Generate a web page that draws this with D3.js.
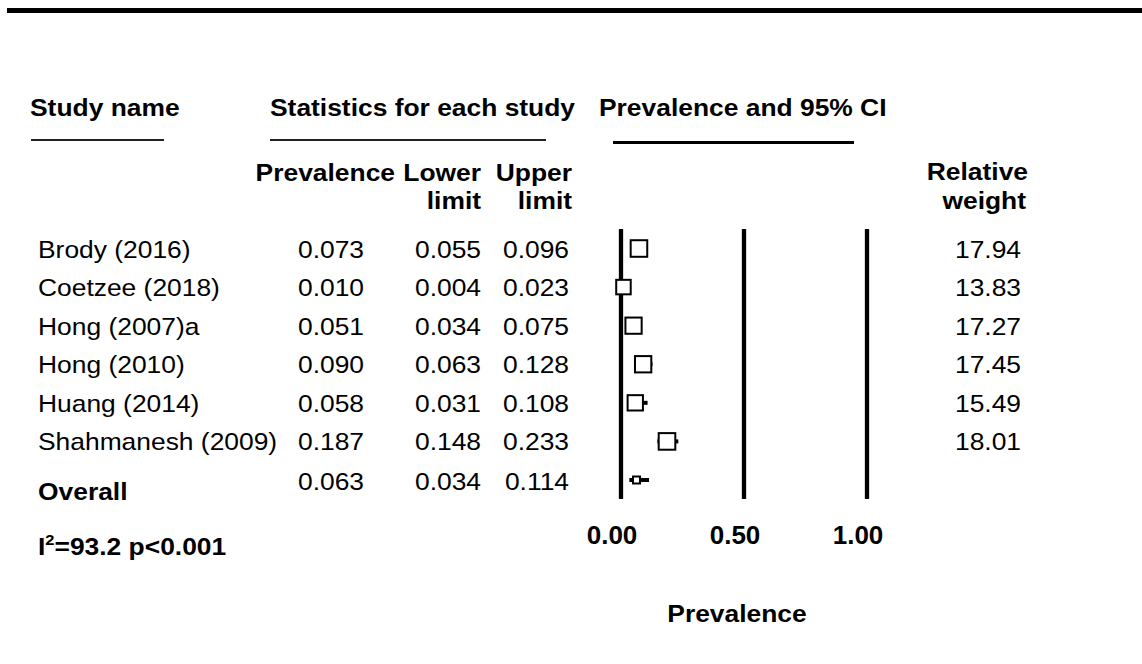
<!DOCTYPE html>
<html lang="en">
  <head>
    <meta charset="UTF-8" />
    <title>Forest plot - Prevalence</title>
    <script src="https://d3js.org/d3.v7.min.js"></script>
    <style>
      body {
        margin: 0;
        background: #fff;
      }
      svg {
        display: block;
      }
      text {
        font-family: "Liberation Sans", Arial, sans-serif;
        fill: #000;
      }
    </style>
  </head>
  <body>
    <svg id="chart" width="1142" height="664"></svg>

    <script>
      // study data
      const studies = [
        "Brody (2016)",
        "Coetzee (2018)",
        "Hong (2007)a",
        "Hong (2010)",
        "Huang (2014)",
        "Shahmanesh (2009)",
      ];
      const prevalence = [0.073, 0.01, 0.051, 0.09, 0.058, 0.187];
      const lower = [0.055, 0.004, 0.034, 0.063, 0.031, 0.148];
      const upper = [0.096, 0.023, 0.075, 0.128, 0.108, 0.233];
      const weights = [17.94, 13.83, 17.27, 17.45, 15.49, 18.01];

      const overall = { prevalence: 0.063, lower: 0.034, upper: 0.114 };
      const xTicks = [0, 0.5, 1];
      const heterogeneity = { i2: "93.2", p: "p<0.001" };

      const svg = d3.select("#chart");
      const SX = 1.1; // the figure's text is a bit wider than plain Arial
      const FS = 24;

      function label(x, y, str, opts = {}) {
        const g = svg
          .append("g")
          .attr("transform", `translate(${x},${y}) scale(${opts.sx || SX},1)`);
        const t = g
          .append("text")
          .attr("text-anchor", opts.anchor || "start")
          .attr("font-size", opts.size || FS)
          .attr("font-weight", opts.bold ? "bold" : "normal")
          .text(str);
        return t;
      }

      // top rule
      svg.append("rect").attr("x", 7).attr("y", 8).attr("width", 1135).attr("height", 5).attr("fill", "#000");

      // group headers + underlines
      label(30, 116, "Study name", { bold: true });
      label(270, 116, "Statistics for each study", { bold: true });
      label(599, 116, "Prevalence and 95% CI", { bold: true });

      svg.append("rect").attr("x", 31).attr("y", 139).attr("width", 133).attr("height", 2).attr("fill", "#222");
      svg.append("rect").attr("x", 270).attr("y", 139).attr("width", 276).attr("height", 2).attr("fill", "#222");
      svg.append("rect").attr("x", 613).attr("y", 141).attr("width", 241).attr("height", 3).attr("fill", "#000");

      // column headers
      const cols = { prev: 364, low: 481, up: 569, wt: 1021 };
      label(395, 181, "Prevalence", { bold: true, anchor: "end" });
      label(481, 181, "Lower", { bold: true, anchor: "end" });
      label(481, 209, "limit", { bold: true, anchor: "end" });
      label(572, 181, "Upper", { bold: true, anchor: "end" });
      label(572, 209, "limit", { bold: true, anchor: "end" });
      label(1028, 180, "Relative", { bold: true, anchor: "end" });
      label(1026, 209, "weight", { bold: true, anchor: "end" });

      // scales
      const x = d3.scaleLinear().domain([0, 1]).range([621, 867]);
      const y = d3
        .scalePoint()
        .domain([...studies, "Overall"])
        .range([248.5, 480]);
      const size = d3.scaleLinear().domain([13.83, 18.01]).range([14.5, 16.6]);

      const fmt = d3.format(".3f");

      // rows
      studies.forEach((s, i) => {
        const yy = y(s) + 9;
        label(38, yy, s);
        label(cols.prev, yy, fmt(prevalence[i]), { anchor: "end" });
        label(cols.low, yy, fmt(lower[i]), { anchor: "end" });
        label(cols.up, yy, fmt(upper[i]), { anchor: "end" });
        label(cols.wt, yy, d3.format(".2f")(weights[i]), { anchor: "end" });
      });

      const yo = y("Overall");
      label(38, yo + 20, "Overall", { bold: true });
      label(cols.prev, yo + 10, fmt(overall.prevalence), { anchor: "end" });
      label(cols.low, yo + 10, fmt(overall.lower), { anchor: "end" });
      label(cols.up, yo + 10, fmt(overall.upper), { anchor: "end" });

      // reference lines
      svg
        .selectAll(".vline")
        .data(xTicks)
        .enter()
        .append("line")
        .attr("x1", (d) => x(d))
        .attr("x2", (d) => x(d))
        .attr("y1", 229)
        .attr("y2", 499)
        .attr("stroke", "#000")
        .attr("stroke-width", 4.3);

      // CI whiskers
      svg
        .selectAll(".ci")
        .data(studies)
        .enter()
        .append("line")
        .attr("x1", (d, i) => x(lower[i]))
        .attr("x2", (d, i) => x(upper[i]))
        .attr("y1", (d) => y(d))
        .attr("y2", (d) => y(d))
        .attr("stroke", "#000")
        .attr("stroke-width", 4);

      // study squares
      svg
        .selectAll(".box")
        .data(studies)
        .enter()
        .append("rect")
        .attr("x", (d, i) => x(prevalence[i]) - size(weights[i]) / 2)
        .attr("y", (d, i) => y(d) - size(weights[i]) / 2)
        .attr("width", (d, i) => size(weights[i]))
        .attr("height", (d, i) => size(weights[i]))
        .attr("fill", "#fff")
        .attr("stroke", "#000")
        .attr("stroke-width", 2);

      // overall estimate
      svg
        .append("line")
        .attr("x1", x(overall.lower))
        .attr("x2", x(overall.upper))
        .attr("y1", yo)
        .attr("y2", yo)
        .attr("stroke", "#000")
        .attr("stroke-width", 4);
      svg
        .append("rect")
        .attr("x", x(overall.prevalence) - 3.5)
        .attr("y", yo - 3.5)
        .attr("width", 7)
        .attr("height", 7)
        .attr("fill", "#fff")
        .attr("stroke", "#000")
        .attr("stroke-width", 2);

      // tick labels + axis title
      xTicks.forEach((t) => {
        label(x(t) - 9, 544, d3.format(".2f")(t), { bold: true, anchor: "middle", size: 25, sx: 1.04 });
      });
      label((x(0) + x(1)) / 2 - 7, 622, "Prevalence", { bold: true, anchor: "middle" });

      // heterogeneity note
      const het = label(38, 555, "", { bold: true });
      het.append("tspan").text("I");
      het.append("tspan").attr("font-size", 15).attr("dy", -10).text("2");
      het.append("tspan").attr("dy", 10).text("=" + heterogeneity.i2 + " " + heterogeneity.p);
    </script>
  </body>
</html>
